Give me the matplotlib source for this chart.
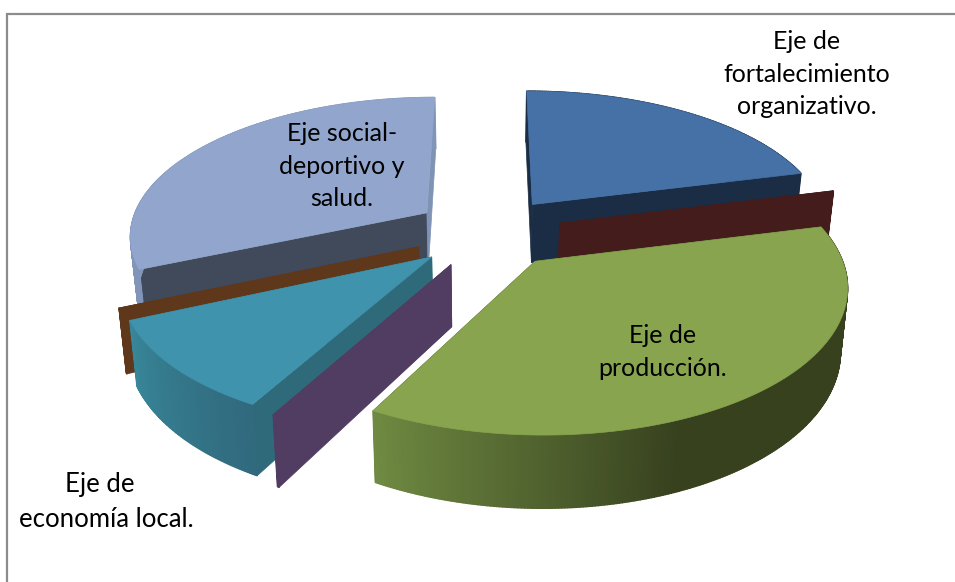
import numpy as np
import matplotlib
matplotlib.use('Agg')
import matplotlib.pyplot as plt
from matplotlib.collections import PolyCollection
from matplotlib.colors import to_rgb

# slices clockwise from the top, thin ones are the almost empty categories
names = ['Eje de fortalecimiento organizativo.', 'b', 'Eje de producción.', 'c',
         'Eje de economía local.', 'd', 'Eje social-deportivo y salud.']
values = [21.0, 0.1, 36.8, 0.1, 10.3, 0.1, 31.6]

top_colors = ['#4571a6', '#441c1b', '#88a44e', '#513c62', '#3f93ad', '#5f381b', '#92a6cd']
start_colors = ['#1a2d45', '#441c1b', '#37411e', '#513c62', '#2f6a7b', '#5f381b', '#404a5b']
end_colors = ['#1a2d45', '#441c1b', '#37411e', '#513c62', '#2f6a7b', '#5f381b', '#7f93b5']
# wall shading: colour at start and end angle of the slice, then where it saturates
wall_from = ['#1a2d45', '#441c1b', '#37411e', '#513c62', '#31697d', '#5f381b', '#8095b8']
wall_to = ['#1a2d45', '#441c1b', '#6f8a42', '#513c62', '#388699', '#5f381b', '#8095b8']
wall_flat = [0, 0, 0.62, 0, 0, 0, 0]
draw_order = [6, 0, 1, 5, 4, 3, 2]

rotation = 0.0
explode_x, explode_y = 0.25, 0.26
cx, cy = 488.0, 232.0
A, B, D, k = 298.0, 138.0, 60.0, 0.15


def project(X, Y, z):
    s = 1 / (1 + k * Y)
    return cx + A * X * s * (1 - 0.02 * z), cy - B * Y * s + D * z * s


def mix(c1, c2, t):
    return tuple((1 - t) * np.array(to_rgb(c1)) + t * np.array(to_rgb(c2)))


fig = plt.figure(figsize=(9.55, 5.82), dpi=100)
ax = fig.add_axes([0, 0, 1, 1])
ax.set_xlim(0, 955)
ax.set_ylim(582, 0)
ax.axis('off')

ax.plot([6.5, 6.5, 955], [582, 14, 14], color='#8c8c8c', lw=1.6, solid_joinstyle='miter')

edges = rotation + np.cumsum([0] + values) / np.sum(values) * 360

for i in draw_order:
    t0, t1 = np.radians(edges[i]), np.radians(edges[i + 1])
    mid = (t0 + t1) / 2
    ox, oy = explode_x * np.sin(mid), explode_y * np.cos(mid)
    th = np.linspace(t0, t1, max(int(np.degrees(t1 - t0)), 1) * 2 + 2)
    arc_x, arc_y = ox + np.sin(th), oy + np.cos(th)

    # cut faces
    for t, col in ((t0, start_colors[i]), (t1, end_colors[i])):
        ex, ey = ox + np.sin(t), oy + np.cos(t)
        quad = [project(ox, oy, 0), project(ex, ey, 0), project(ex, ey, 1), project(ox, oy, 1)]
        ax.fill(*zip(*quad), color=col, lw=0.5, zorder=2)

    # outer wall as narrow strips so the shading can run along it
    polys, cols = [], []
    for j in range(len(th) - 1):
        polys.append([project(arc_x[j], arc_y[j], 0), project(arc_x[j + 1], arc_y[j + 1], 0),
                      project(arc_x[j + 1], arc_y[j + 1], 1), project(arc_x[j], arc_y[j], 1)])
        f = j / (len(th) - 2)
        if wall_flat[i] > 0:
            f = max(0, (f - wall_flat[i]) / (1 - wall_flat[i]))
        cols.append(mix(wall_from[i], wall_to[i], f))
    ax.add_collection(PolyCollection(polys, facecolors=cols, edgecolors=cols, linewidths=1.0, zorder=2))

    outline = [project(ox, oy, 0)] + [project(a, b, 0) for a, b in zip(arc_x, arc_y)]
    ax.fill(*zip(*outline), color=top_colors[i], lw=0.5, zorder=2)

ax.text(807, 74, 'Eje de\nfortalecimiento\norganizativo.', ha='center', va='center',
        family='Lato', fontsize=18, linespacing=1.5, color='black', zorder=5)
ax.text(342, 166, 'Eje social-\ndeportivo y\nsalud.', ha='center', va='center',
        family='Lato', fontsize=18, linespacing=1.5, color='black', zorder=5)
ax.text(663, 352, 'Eje de\nproducción.', ha='center', va='center',
        family='Lato', fontsize=18, linespacing=1.5, color='black', zorder=5)
ax.text(106, 502, 'Eje de  \neconomía local.', ha='center', va='center',
        family='Lato', fontsize=18.5, linespacing=1.5, color='black', zorder=5)

fig.savefig('out.png', dpi=100)
